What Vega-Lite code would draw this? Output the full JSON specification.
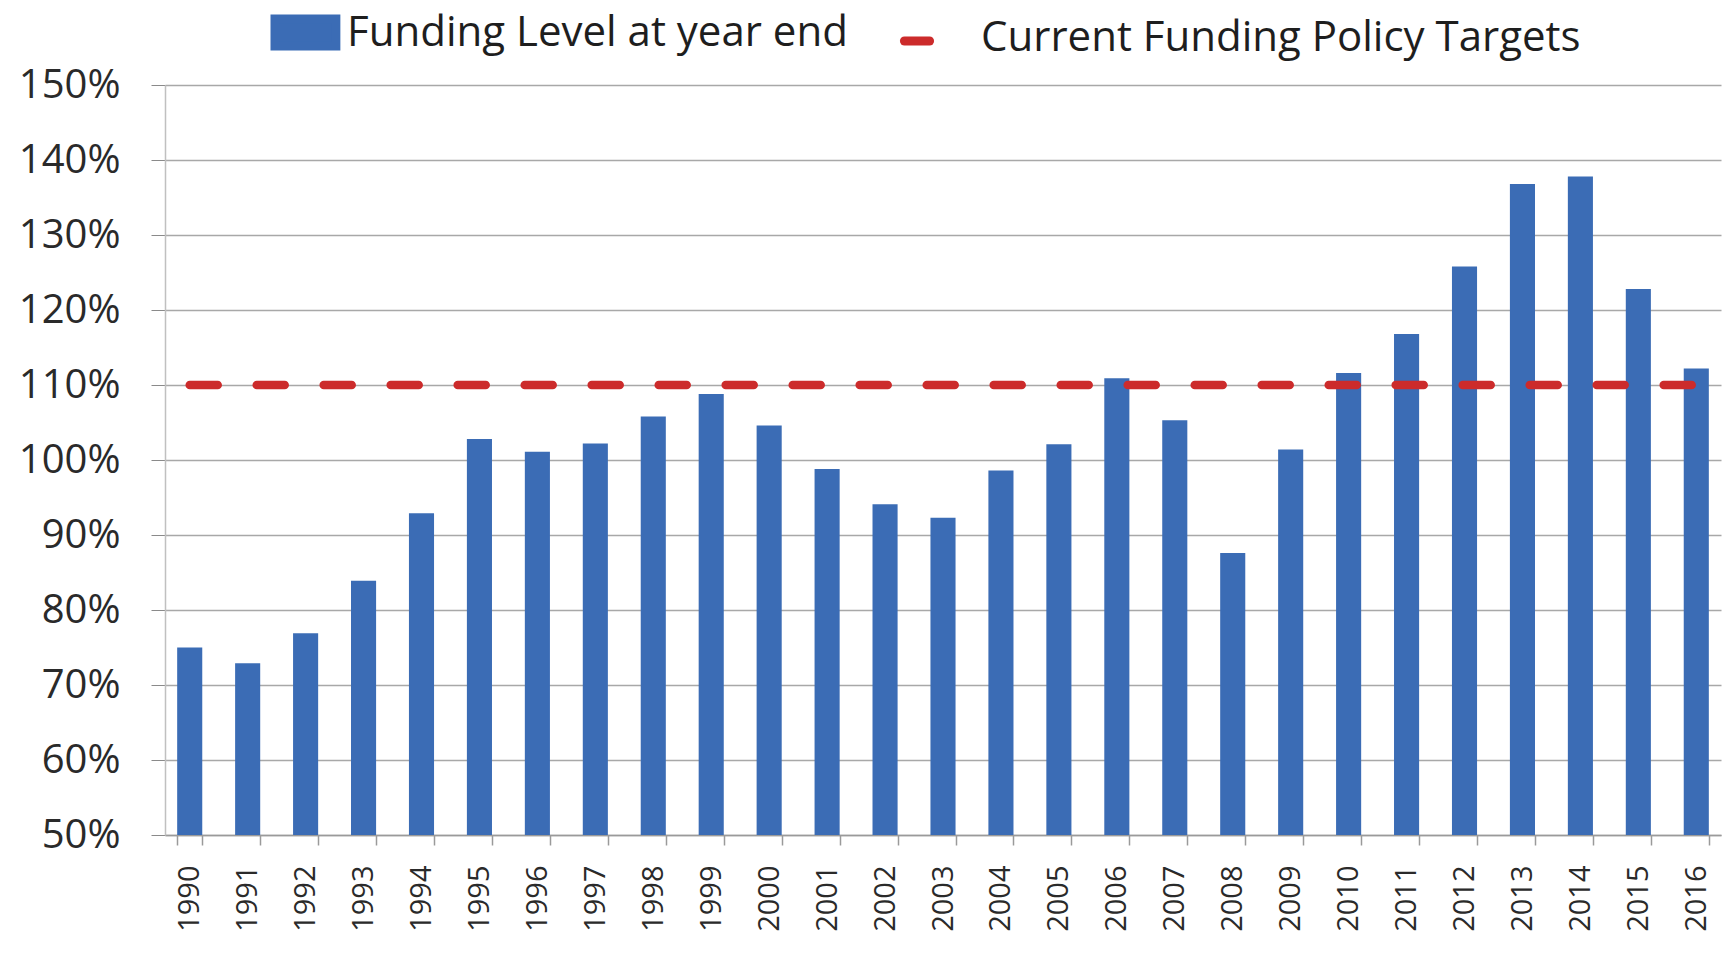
{
  "$schema": "https://vega.github.io/schema/vega-lite/v6.json",
  "width": 1556,
  "height": 750,
  "autosize": {"type": "none"},
  "padding": {"left": 165, "top": 85, "right": 8, "bottom": 118},
  "background": "white",
  "config": {
    "view": {"stroke": null},
    "font": "Open Sans"
  },
  "data": {
    "values": [
      {"year": "1990", "funding": 75.0, "target": 110},
      {"year": "1991", "funding": 72.9, "target": 110},
      {"year": "1992", "funding": 76.9, "target": 110},
      {"year": "1993", "funding": 83.9, "target": 110},
      {"year": "1994", "funding": 92.9, "target": 110},
      {"year": "1995", "funding": 102.8, "target": 110},
      {"year": "1996", "funding": 101.1, "target": 110},
      {"year": "1997", "funding": 102.2, "target": 110},
      {"year": "1998", "funding": 105.8, "target": 110},
      {"year": "1999", "funding": 108.8, "target": 110},
      {"year": "2000", "funding": 104.6, "target": 110},
      {"year": "2001", "funding": 98.8, "target": 110},
      {"year": "2002", "funding": 94.1, "target": 110},
      {"year": "2003", "funding": 92.3, "target": 110},
      {"year": "2004", "funding": 98.6, "target": 110},
      {"year": "2005", "funding": 102.1, "target": 110},
      {"year": "2006", "funding": 110.9, "target": 110},
      {"year": "2007", "funding": 105.3, "target": 110},
      {"year": "2008", "funding": 87.6, "target": 110},
      {"year": "2009", "funding": 101.4, "target": 110},
      {"year": "2010", "funding": 111.6, "target": 110},
      {"year": "2011", "funding": 116.8, "target": 110},
      {"year": "2012", "funding": 125.8, "target": 110},
      {"year": "2013", "funding": 136.8, "target": 110},
      {"year": "2014", "funding": 137.8, "target": 110},
      {"year": "2015", "funding": 122.8, "target": 110},
      {"year": "2016", "funding": 112.2, "target": 110}
    ]
  },
  "encoding": {
    "x": {
      "field": "year",
      "type": "ordinal",
      "sort": null,
      "scale": {"paddingInner": 0.567, "paddingOuter": 0.21},
      "axis": {
        "title": null,
        "labelAngle": -90,
        "labelFont": "Open Sans",
        "labelFontSize": 29,
        "labelColor": "#2a2a2a",
        "labelPadding": 20,
        "tickBand": "extent",
        "tickSize": 10,
        "tickColor": "#9a9a9a",
        "tickWidth": 1.5,
        "domainColor": "#9a9a9a",
        "domainWidth": 1.5,
        "grid": false
      }
    }
  },
  "layer": [
    {
      "mark": {"type": "bar", "fill": "#3b6cb5"},
      "encoding": {
        "y": {
          "field": "funding",
          "type": "quantitative",
          "scale": {"domain": [50, 150], "zero": false, "nice": false},
          "axis": {
            "title": null,
            "values": [50, 60, 70, 80, 90, 100, 110, 120, 130, 140, 150],
            "labelExpr": "datum.value + '%'",
            "labelFont": "Open Sans",
            "labelFontSize": 40,
            "labelColor": "#2a2a2a",
            "labelPadding": 31,
            "tickSize": 14,
            "tickColor": "#8a8a8a",
            "tickWidth": 1,
            "domainColor": "#c0c0c0",
            "domainWidth": 1.5,
            "grid": true,
            "gridColor": "#a8a8a8",
            "gridWidth": 1.5
          }
        },
        "y2": {"datum": 50},
        "color": {
          "datum": "Funding Level at year end",
          "type": "nominal",
          "scale": {
            "domain": ["Funding Level at year end", "Current Funding Policy Targets"],
            "range": ["#3b6cb5", "#cc2b2b"]
          },
          "legend": {
            "title": null,
            "orient": "none",
            "legendX": 105,
            "legendY": -91,
            "direction": "horizontal",
            "padding": 0,
            "symbolSize": 4624,
            "symbolStrokeWidth": 0,
            "labelFont": "Open Sans",
            "labelFontSize": 42,
            "labelColor": "#1e1e1e",
            "labelOffset": 0,
            "labelLimit": 1000,
            "columnPadding": 38,
            "encode": {
              "symbols": {
                "update": {
                  "shape": {"signal": "datum.value === 'Funding Level at year end' ? 'M-0.985,-0.395H0.805V0.395H-0.985Z' : 'M-1.12,0.1H-0.38'"},
                  "fill": {"signal": "datum.value === 'Funding Level at year end' ? '#3b6cb5' : 'transparent'"},
                  "stroke": {"signal": "datum.value === 'Funding Level at year end' ? 'transparent' : '#cc2b2b'"},
                  "strokeWidth": {"value": 9},
                  "strokeCap": {"value": "round"},
                  "opacity": {"value": 1}
                }
              }
            }
          }
        }
      }
    },
    {
      "mark": {"type": "line", "strokeWidth": 8.5, "strokeDash": [28, 39], "strokeCap": "round"},
      "encoding": {
        "y": {"field": "target", "type": "quantitative"},
        "color": {"datum": "Current Funding Policy Targets", "type": "nominal"}
      }
    }
  ]
}
